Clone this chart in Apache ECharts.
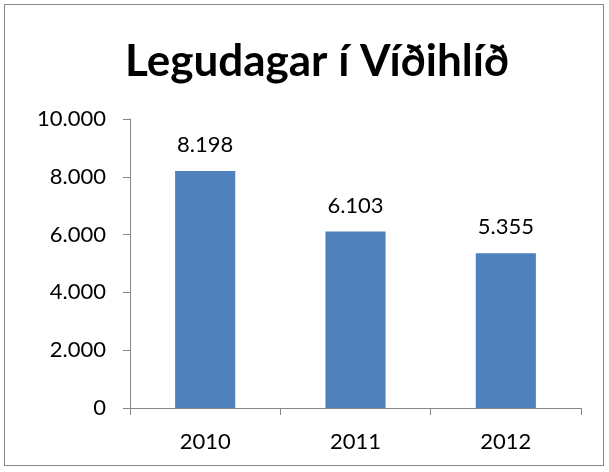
<!DOCTYPE html>
<html><head><meta charset="utf-8">
<script src="https://cdn.jsdelivr.net/npm/echarts@6/dist/echarts.min.js"></script>
<style>html,body{margin:0;padding:0;background:#fff}#c{width:609px;height:472px}
#b{position:absolute;left:4px;top:4px;width:600px;height:462px;border:1px solid #888;box-sizing:border-box;pointer-events:none}</style>
</head><body><div id="c"></div><div id="b"></div>
<script>
const categories = ['2010', '2011', '2012'];
const values = [8198, 6103, 5355];
const title = 'Legudagar í Víðihlíð';
const fmt = v => String(v).replace(/\B(?=(\d{3})+(?!\d))/g, '.');
const chart = echarts.init(document.getElementById('c'));
chart.setOption({
  animation: false,
  title: { text: title, left: 120, top: 35, textStyle: { fontFamily: 'Lato', fontWeight: 'bold', fontSize: 44, color: '#000' } },
  grid: { left: 130, right: 28, top: 119, bottom: 64 },
  xAxis: { type: 'category', data: categories,
    axisLine: { lineStyle: { color: '#868686', width: 1 } },
    axisTick: { show: true, length: 7, lineStyle: { color: '#868686' } },
    axisLabel: { fontFamily: 'Lato', fontSize: 22, color: '#000', margin: 23 } },
  yAxis: { type: 'value', min: 0, max: 10000, interval: 2000,
    splitLine: { show: false },
    axisLine: { show: true, lineStyle: { color: '#868686' } },
    axisTick: { show: true, length: 7, lineStyle: { color: '#868686' } },
    axisLabel: { fontFamily: 'Lato', fontSize: 22, color: '#000', margin: 24, formatter: fmt } },
  series: [{ type: 'bar', data: values, barWidth: '40%',
    itemStyle: { color: '#4F81BD' },
    label: { show: true, position: 'top', distance: 15, fontFamily: 'Lato', fontSize: 22, color: '#000', formatter: p => fmt(p.value) } }]
});
</script></body></html>
